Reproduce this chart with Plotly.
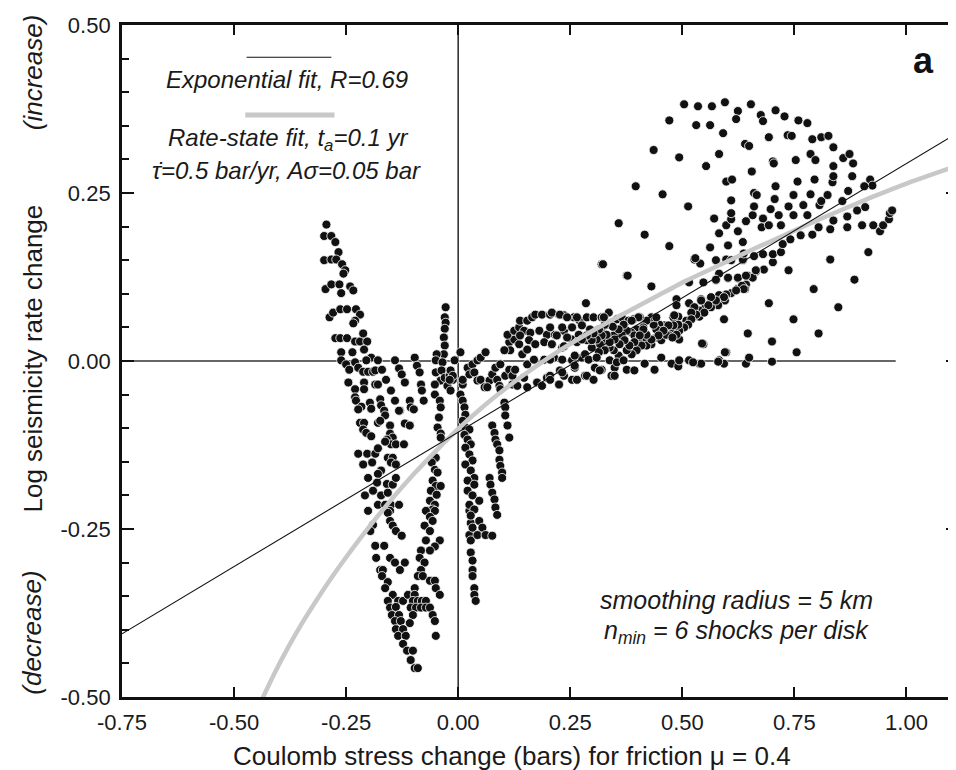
import plotly.graph_objects as go

# ---- scatter data: (Coulomb stress change, log seismicity rate change) ----
left_pts = [
    (-0.294, 0.203), (-0.299, 0.186), (-0.283, 0.186), (-0.274, 0.177), (-0.267, 0.162),
    (-0.299, 0.150), (-0.283, 0.151), (-0.272, 0.151), (-0.259, 0.144), (-0.252, 0.135),
    (-0.256, 0.130), (-0.296, 0.107), (-0.283, 0.114), (-0.265, 0.114), (-0.261, 0.101),
    (-0.241, 0.111), (-0.234, 0.105), (-0.287, 0.065), (-0.279, 0.072), (-0.263, 0.077),
    (-0.248, 0.077), (-0.228, 0.077), (-0.219, 0.069), (-0.230, 0.060), (-0.234, 0.056),
    (-0.274, 0.034), (-0.263, 0.034), (-0.248, 0.034), (-0.230, 0.029), (-0.219, 0.029),
    (-0.203, 0.029), (-0.212, 0.041), (-0.261, 0.013), (-0.236, 0.013), (-0.210, 0.017),
    (-0.097, 0.005), (-0.194, 0.005),
    (-0.261, 0.001), (-0.250, -0.005), (-0.243, -0.013), (-0.230, -0.002), (-0.223, -0.010),
    (-0.212, -0.016), (-0.201, -0.016), (-0.190, -0.016), (-0.205, 0.001), (-0.179, 0.001),
    (-0.185, -0.014), (-0.170, -0.013), (-0.141, 0.001), (-0.132, -0.011), (-0.126, -0.020),
    (-0.119, -0.032), (-0.092, -0.007), (-0.086, -0.017), (-0.083, -0.035), (-0.081, -0.044),
    (-0.077, -0.059),
    (-0.245, -0.032), (-0.210, -0.032), (-0.185, -0.035), (-0.179, -0.035), (-0.230, -0.042),
    (-0.210, -0.042), (-0.161, -0.028), (-0.150, -0.044), (-0.141, -0.059), (-0.130, -0.074),
    (-0.108, -0.059), (-0.106, -0.069), (-0.099, -0.072), (-0.119, -0.093), (-0.108, -0.096),
    (-0.230, -0.054), (-0.228, -0.059), (-0.216, -0.068), (-0.197, -0.062), (-0.194, -0.071),
    (-0.223, -0.072), (-0.174, -0.057), (-0.172, -0.066), (-0.165, -0.074), (-0.163, -0.081),
    (-0.132, -0.074), (-0.219, -0.092), (-0.210, -0.092), (-0.212, -0.102), (-0.205, -0.107),
    (-0.194, -0.112), (-0.179, -0.092), (-0.174, -0.089), (-0.152, -0.096), (-0.152, -0.108),
    (-0.146, -0.114), (-0.159, -0.117), (-0.150, -0.124), (-0.139, -0.124), (-0.121, -0.124),
    (-0.163, -0.120), (-0.223, -0.138), (-0.203, -0.138), (-0.185, -0.138), (-0.179, -0.130),
    (-0.212, -0.154), (-0.192, -0.151), (-0.157, -0.144), (-0.146, -0.144), (-0.150, -0.151),
    (-0.139, -0.154), (-0.172, -0.163), (-0.179, -0.168), (-0.201, -0.174), (-0.181, -0.181),
    (-0.159, -0.183), (-0.146, -0.184), (-0.139, -0.174), (-0.208, -0.200), (-0.190, -0.193),
    (-0.172, -0.200), (-0.157, -0.196), (-0.201, -0.223), (-0.179, -0.214), (-0.163, -0.214),
    (-0.150, -0.214), (-0.132, -0.214), (-0.152, -0.223),
    (-0.157, -0.226), (-0.152, -0.238), (-0.146, -0.245), (-0.139, -0.253), (-0.126, -0.260),
    (-0.190, -0.244), (-0.196, -0.253), (-0.185, -0.275), (-0.165, -0.275), (-0.183, -0.293),
    (-0.152, -0.293), (-0.141, -0.300), (-0.119, -0.300), (-0.130, -0.311), (-0.174, -0.311),
    (-0.168, -0.311), (-0.170, -0.320), (-0.157, -0.329), (-0.163, -0.338), (-0.146, -0.348),
    (-0.157, -0.357), (-0.134, -0.357), (-0.123, -0.357), (-0.152, -0.367), (-0.139, -0.366),
    (-0.148, -0.378), (-0.132, -0.378), (-0.141, -0.387), (-0.128, -0.387), (-0.139, -0.399),
    (-0.123, -0.399), (-0.134, -0.409), (-0.117, -0.409), (-0.123, -0.421), (-0.114, -0.431),
    (-0.101, -0.431), (-0.106, -0.445), (-0.097, -0.457), (-0.090, -0.457),
]

center_pts = [
    (-0.028, 0.080), (-0.030, 0.065), (-0.028, 0.057), (-0.030, 0.048), (-0.032, 0.035),
    (-0.030, 0.023), (-0.032, 0.010), (-0.048, 0.010), (0.005, 0.013),
    (-0.050, 0.001), (-0.035, -0.002), (-0.050, -0.017), (-0.037, -0.014), (-0.039, -0.029),
    (-0.052, -0.035), (-0.052, -0.050), (-0.030, -0.025), (-0.019, -0.022), (-0.012, -0.028),
    (-0.024, -0.037), (-0.017, -0.044), (-0.041, -0.059), (-0.039, -0.069), (-0.043, -0.084),
    (-0.046, -0.099), (-0.039, -0.108), (-0.039, -0.114),
    (-0.050, -0.144), (-0.059, -0.151), (-0.052, -0.162), (-0.046, -0.166), (-0.057, -0.178),
    (-0.050, -0.186), (-0.039, -0.186), (-0.061, -0.193), (-0.048, -0.199), (-0.063, -0.208),
    (-0.052, -0.214), (-0.068, -0.223), (-0.057, -0.221),
    (-0.072, -0.223), (-0.052, -0.223), (-0.063, -0.232), (-0.057, -0.238), (-0.075, -0.245),
    (-0.063, -0.253), (-0.072, -0.267), (-0.041, -0.267), (-0.052, -0.276), (-0.083, -0.282),
    (-0.063, -0.282), (-0.086, -0.293), (-0.075, -0.300), (-0.083, -0.311), (-0.090, -0.320),
    (-0.079, -0.320), (-0.063, -0.327), (-0.052, -0.327), (-0.097, -0.338), (-0.050, -0.338),
    (-0.041, -0.348), (-0.112, -0.348), (-0.097, -0.348), (-0.101, -0.357), (-0.090, -0.357),
    (-0.081, -0.357), (-0.072, -0.357), (-0.106, -0.367), (-0.094, -0.367), (-0.083, -0.367),
    (-0.072, -0.367), (-0.063, -0.367), (-0.057, -0.378), (-0.052, -0.387), (-0.101, -0.378),
    (-0.108, -0.390), (-0.050, -0.409),
    (0.025, -0.223), (0.028, -0.241), (0.025, -0.259), (0.028, -0.267), (0.028, -0.285),
    (0.032, -0.297), (0.032, -0.311), (0.032, -0.320), (0.036, -0.338), (0.036, -0.348),
    (0.039, -0.357),
    (-0.008, 0.001), (-0.017, -0.014), (-0.012, -0.022), (-0.019, -0.028),
    (0.010, -0.035), (0.005, -0.050), (0.010, -0.059), (0.014, -0.069), (0.016, -0.080),
    (0.010, -0.089), (0.016, -0.099), (0.025, -0.102), (0.014, -0.110), (0.021, -0.117),
    (0.028, -0.124), (0.016, -0.129), (0.025, -0.139), (0.032, -0.148), (0.016, -0.154),
    (0.028, -0.163), (0.036, -0.174), (0.021, -0.178), (0.036, -0.184), (0.021, -0.193),
    (0.032, -0.200), (0.047, -0.208), (0.025, -0.214), (0.036, -0.221), (0.028, -0.230),
    (0.047, -0.238), (0.032, -0.248), (0.054, -0.248), (0.043, -0.259), (0.061, -0.259),
    (0.076, -0.260),
    (0.070, -0.174), (0.072, -0.184), (0.076, -0.196), (0.081, -0.206), (0.083, -0.218),
    (0.087, -0.229),
    (0.076, -0.096), (0.081, -0.107), (0.083, -0.117), (0.087, -0.124), (0.092, -0.133),
    (0.092, -0.147), (0.094, -0.156), (0.098, -0.166), (0.098, -0.174),
    (0.103, -0.062), (0.105, -0.069), (0.105, -0.081), (0.110, -0.096), (0.114, -0.114),
    (0.021, -0.010), (0.032, -0.005), (0.043, 0.001), (0.050, 0.005), (0.061, 0.013),
    (0.010, -0.028), (0.025, -0.020), (0.036, -0.017), (0.043, -0.029), (0.050, -0.028),
    (0.059, -0.039), (0.070, -0.029), (0.065, -0.039), (0.076, -0.020), (0.083, -0.010),
    (0.094, -0.005), (0.087, -0.028), (0.092, -0.037), (0.094, -0.042), (0.105, -0.022),
    (0.114, -0.013), (0.121, -0.022), (0.127, -0.013), (0.121, -0.035), (0.132, -0.037),
    (0.147, -0.025), (0.154, -0.039), (0.154, -0.005), (0.169, 0.002), (0.176, -0.032),
    (0.187, -0.037), (0.198, -0.025), (0.205, -0.022), (0.227, -0.014), (0.236, -0.022),
    (0.225, -0.035), (0.260, -0.010), (0.265, -0.028), (0.283, -0.022), (0.254, 0.001),
    (0.276, 0.005),
]

hump_pts = [
    (0.114, 0.028), (0.125, 0.032), (0.136, 0.025), (0.116, 0.016), (0.143, 0.010),
    (0.110, 0.039), (0.125, 0.045), (0.136, 0.050), (0.138, 0.060), (0.154, 0.060),
    (0.165, 0.065), (0.172, 0.069), (0.187, 0.069), (0.205, 0.069), (0.225, 0.069),
    (0.236, 0.068), (0.258, 0.065), (0.271, 0.060), (0.147, 0.045), (0.161, 0.042),
    (0.181, 0.045), (0.198, 0.039), (0.216, 0.039), (0.236, 0.045), (0.254, 0.050),
    (0.158, 0.031), (0.172, 0.025), (0.192, 0.028), (0.209, 0.025), (0.232, 0.020),
    (0.254, 0.032), (0.269, 0.039), (0.103, 0.016), (0.138, 0.038), (0.154, 0.017),
    (0.192, 0.002), (0.214, 0.005),
    (0.209, 0.072), (0.227, 0.069), (0.243, 0.065), (0.265, 0.065), (0.287, 0.065),
    (0.302, 0.065), (0.320, 0.065), (0.336, 0.072), (0.205, 0.050), (0.232, 0.050),
    (0.254, 0.050), (0.276, 0.053), (0.294, 0.047), (0.220, 0.038), (0.243, 0.035),
    (0.209, 0.025), (0.236, 0.022), (0.265, 0.028), (0.260, 0.008), (0.283, 0.010),
]

right_pts = [
    (0.320, 0.144), (0.376, 0.127), (0.431, 0.111), (0.285, 0.086), (0.527, 0.151),
    (0.540, 0.145), (0.598, 0.151), (0.635, 0.150), (0.682, 0.136), (0.664, 0.133),
    (0.646, 0.127), (0.657, 0.124), (0.624, 0.123), (0.602, 0.123), (0.582, 0.130),
    (0.575, 0.120), (0.547, 0.117), (0.515, 0.117), (0.642, 0.114), (0.640, 0.107),
    (0.622, 0.107), (0.609, 0.101), (0.598, 0.099), (0.582, 0.098), (0.564, 0.093),
    (0.542, 0.092), (0.515, 0.086), (0.487, 0.092), (0.487, 0.083), (0.595, 0.090),
    (0.580, 0.083), (0.564, 0.080), (0.549, 0.078), (0.538, 0.075), (0.527, 0.072),
    (0.538, 0.066), (0.524, 0.065), (0.509, 0.060), (0.491, 0.066), (0.480, 0.065),
    (0.502, 0.050), (0.491, 0.047), (0.480, 0.045), (0.471, 0.038), (0.460, 0.053),
    (0.449, 0.054), (0.453, 0.044), (0.442, 0.047), (0.436, 0.054), (0.431, 0.065),
    (0.420, 0.060), (0.413, 0.050), (0.398, 0.047), (0.387, 0.042), (0.376, 0.045),
    (0.365, 0.038), (0.347, 0.038), (0.336, 0.031), (0.325, 0.031), (0.316, 0.025),
    (0.393, 0.038), (0.405, 0.035), (0.420, 0.032), (0.431, 0.025), (0.442, 0.035),
    (0.453, 0.031), (0.464, 0.039), (0.493, 0.032), (0.420, 0.023), (0.409, 0.023),
    (0.398, 0.016), (0.387, 0.010), (0.376, 0.016), (0.358, 0.008), (0.347, 0.016),
    (0.338, 0.020), (0.327, 0.016), (0.314, 0.013), (0.298, 0.020), (0.287, 0.031),
    (0.302, 0.032), (0.309, 0.042), (0.320, 0.047), (0.331, 0.054), (0.342, 0.057),
    (0.354, 0.062), (0.365, 0.065), (0.380, 0.060), (0.391, 0.062), (0.405, 0.065),
    (0.205, 0.002), (0.232, 0.002), (0.260, -0.007), (0.291, 0.002), (0.309, 0.005),
    (0.305, -0.010), (0.320, -0.013), (0.338, 0.001), (0.349, -0.010), (0.354, -0.002),
    (0.369, 0.001), (0.376, -0.013), (0.393, -0.014), (0.416, -0.004), (0.438, -0.013),
    (0.453, 0.005), (0.476, -0.004), (0.491, -0.008), (0.493, 0.001), (0.515, 0.001),
    (0.538, -0.004), (0.582, 0.001), (0.593, -0.004), (0.598, 0.013), (0.642, -0.004),
    (0.649, 0.005), (0.547, 0.025), (0.593, 0.062), (0.646, 0.041),
    (0.205, -0.028), (0.225, -0.035), (0.232, -0.017), (0.254, -0.028), (0.265, -0.028),
    (0.287, -0.022), (0.302, -0.028), (0.316, -0.014), (0.342, -0.022), (0.349, -0.022),
    (0.575, 0.121), (0.602, 0.124), (0.624, 0.124), (0.642, 0.127), (0.664, 0.135),
    (0.702, 0.147), (0.702, 0.159), (0.720, 0.162), (0.724, 0.174), (0.660, 0.156),
    (0.635, 0.151), (0.609, 0.150), (0.575, 0.150), (0.562, 0.169), (0.529, 0.153),
    (0.602, 0.172), (0.637, 0.160), (0.680, 0.159), (0.633, 0.112), (0.637, 0.107),
    (0.620, 0.105), (0.593, 0.095), (0.575, 0.090), (0.564, 0.095), (0.558, 0.083),
    (0.549, 0.072), (0.542, 0.090), (0.527, 0.080), (0.531, 0.069), (0.520, 0.072),
    (0.520, 0.062), (0.513, 0.054), (0.504, 0.050), (0.493, 0.045), (0.487, 0.039),
    (0.478, 0.035), (0.491, 0.054), (0.480, 0.053), (0.469, 0.053), (0.458, 0.045),
    (0.447, 0.038), (0.431, 0.032), (0.420, 0.039), (0.413, 0.047), (0.405, 0.038),
    (0.393, 0.028), (0.382, 0.023), (0.371, 0.031), (0.360, 0.025), (0.349, 0.032),
    (0.338, 0.028), (0.331, 0.039), (0.320, 0.038), (0.309, 0.032), (0.298, 0.031),
    (0.402, 0.065), (0.387, 0.060), (0.369, 0.054), (0.358, 0.047), (0.345, 0.051),
    (0.327, 0.054), (0.314, 0.047), (0.302, 0.041), (0.287, 0.038), (0.276, 0.032),
    (0.482, 0.068), (0.442, 0.065), (0.325, 0.065),
]

upper_pts = [
    (0.504, 0.382), (0.535, 0.379), (0.566, 0.379), (0.595, 0.385), (0.653, 0.382),
    (0.624, 0.372), (0.620, 0.360), (0.675, 0.366), (0.680, 0.357), (0.708, 0.373),
    (0.728, 0.364), (0.759, 0.358), (0.779, 0.354), (0.471, 0.358), (0.531, 0.351),
    (0.562, 0.351), (0.591, 0.339), (0.640, 0.323), (0.649, 0.320), (0.693, 0.333),
    (0.735, 0.336), (0.744, 0.335), (0.790, 0.330), (0.810, 0.333), (0.826, 0.335),
    (0.837, 0.318), (0.436, 0.314), (0.493, 0.303), (0.553, 0.290), (0.582, 0.308),
    (0.702, 0.297), (0.704, 0.294), (0.753, 0.299), (0.786, 0.308), (0.797, 0.299),
    (0.837, 0.290), (0.859, 0.302), (0.873, 0.308), (0.881, 0.294), (0.598, 0.267),
    (0.611, 0.270), (0.655, 0.282), (0.757, 0.267), (0.795, 0.270), (0.835, 0.266),
    (0.837, 0.275), (0.879, 0.275), (0.919, 0.270), (0.924, 0.261), (0.906, 0.260),
    (0.396, 0.260), (0.456, 0.248), (0.513, 0.230), (0.358, 0.205), (0.416, 0.188),
    (0.471, 0.171), (0.323, 0.144), (0.378, 0.127), (0.571, 0.212), (0.582, 0.190),
    (0.598, 0.202), (0.609, 0.211), (0.609, 0.220), (0.609, 0.239), (0.624, 0.193),
    (0.635, 0.177), (0.642, 0.208), (0.657, 0.217), (0.660, 0.250), (0.666, 0.247),
    (0.660, 0.230), (0.680, 0.212), (0.677, 0.199), (0.693, 0.202), (0.697, 0.226),
    (0.706, 0.241), (0.708, 0.260), (0.715, 0.217), (0.720, 0.202), (0.737, 0.230),
    (0.741, 0.181), (0.748, 0.217), (0.748, 0.247), (0.764, 0.187), (0.770, 0.232),
    (0.779, 0.217), (0.786, 0.248), (0.790, 0.188), (0.806, 0.232), (0.810, 0.238),
    (0.804, 0.199), (0.824, 0.247), (0.837, 0.209), (0.857, 0.238), (0.830, 0.196),
    (0.868, 0.215), (0.870, 0.253), (0.890, 0.224), (0.868, 0.199), (0.901, 0.202),
    (0.908, 0.229), (0.926, 0.202), (0.941, 0.193), (0.948, 0.202), (0.961, 0.211),
    (0.963, 0.220), (0.968, 0.224), (0.915, 0.162), (0.884, 0.121), (0.848, 0.080),
    (0.830, 0.151), (0.793, 0.107), (0.804, 0.041), (0.737, 0.135), (0.693, 0.086),
    (0.700, 0.029), (0.748, 0.062), (0.755, 0.013), (0.544, 0.026), (0.595, 0.013),
    (0.700, -0.001), (0.580, -0.001), (0.542, -0.004), (0.524, -0.002),
]

# ---- fitted curves ----
exp_fit_x = [-0.75, 1.115]
exp_fit_y = [-0.406, 0.340]

rs_fit_x = [-0.438, -0.41, -0.38, -0.35, -0.32, -0.28, -0.25, -0.20, -0.15, -0.10,
            -0.05, 0.0, 0.05, 0.10, 0.15, 0.213, 0.30, 0.36, 0.45, 0.51, 0.60, 0.66,
            0.75, 0.81, 0.92, 1.00, 1.115]
rs_fit_y = [-0.504, -0.465, -0.427, -0.392, -0.360, -0.320, -0.292, -0.248, -0.207,
            -0.169, -0.134, -0.101, -0.071, -0.044, -0.019, 0.010, 0.045, 0.067,
            0.099, 0.120, 0.148, 0.167, 0.194, 0.212, 0.243, 0.264, 0.291]

x_ticks = [-0.75, -0.50, -0.25, 0.00, 0.25, 0.50, 0.75, 1.00]
x_tick_labels = ["-0.75", "-0.50", "-0.25", "0.00", "0.25", "0.50", "0.75", "1.00"]
y_ticks = [-0.50, -0.25, 0.00, 0.25, 0.50]
y_tick_labels = ["-0.50", "-0.25", "0.00", "0.25", "0.50"]

all_pts = left_pts + center_pts + hump_pts + right_pts + upper_pts
px = [p[0] for p in all_pts]
py = [p[1] for p in all_pts]

FONT = "Liberation Sans, Arial, Helvetica, sans-serif"
INK = "#1a1a1a"

fig = go.Figure()
fig.add_trace(go.Scatter(
    x=px, y=py, mode="markers",
    marker=dict(size=9, color="#111111", line=dict(color="white", width=0.8)),
    showlegend=False, hoverinfo="skip"))
fig.add_trace(go.Scatter(
    x=rs_fit_x, y=rs_fit_y, mode="lines",
    line=dict(color="#c8c8c8", width=4.5, shape="spline", smoothing=0.6),
    showlegend=False, hoverinfo="skip"))
fig.add_trace(go.Scatter(
    x=exp_fit_x, y=exp_fit_y, mode="lines",
    line=dict(color="#111111", width=1.1),
    showlegend=False, hoverinfo="skip"))

shapes = [
    dict(type="line", xref="x", yref="y", x0=0, x1=0, y0=-0.5, y1=0.5,
         line=dict(color="#333333", width=1.6), layer="below"),
    dict(type="line", xref="x", yref="y", x0=-0.75, x1=0.976, y0=0, y1=0,
         line=dict(color="#333333", width=1.6), layer="below"),
    dict(type="line", xref="x", yref="y", x0=-0.472, x1=-0.283, y0=0.452, y1=0.452,
         line=dict(color="#111111", width=1.1)),
    dict(type="line", xref="x", yref="y", x0=-0.475, x1=-0.276, y0=0.366, y1=0.366,
         line=dict(color="#c8c8c8", width=5)),
]

leg = dict(family=FONT, size=24, color=INK)
note = dict(family=FONT, size=25, color=INK)
title = dict(family=FONT, size=26, color=INK)
annotations = [
    dict(x=-0.382, y=0.419, xref="x", yref="y", text="<i>Exponential fit, R=0.69</i>",
         showarrow=False, font=leg),
    dict(x=-0.380, y=0.330, xref="x", yref="y",
         text="<i>Rate-state fit, t<sub>a</sub>=0.1 yr</i>", showarrow=False, font=leg),
    dict(x=-0.382, y=0.283, xref="x", yref="y",
         text="<i>\u03c4\u0307=0.5 bar/yr, A\u03c3=0.05 bar</i>", showarrow=False, font=leg),
    dict(x=1.037, y=0.447, xref="x", yref="y", text="<b>a</b>", showarrow=False,
         font=dict(family=FONT, size=36, color="#111111")),
    dict(x=0.620, y=-0.356, xref="x", yref="y", text="<i>smoothing radius = 5 km</i>",
         showarrow=False, font=note),
    dict(x=0.620, y=-0.403, xref="x", yref="y",
         text="<i>n<sub>min</sub> = 6 shocks per disk</i>", showarrow=False, font=note),
    dict(x=-0.107, y=0.503, xref="paper", yref="paper", text="Log seismicity rate change",
         textangle=-90, showarrow=False, xanchor="center", yanchor="middle", font=title),
    dict(x=-0.107, y=0.929, xref="paper", yref="paper", text="<i>(increase)</i>",
         textangle=-90, showarrow=False, xanchor="center", yanchor="middle", font=title),
    dict(x=-0.107, y=0.095, xref="paper", yref="paper", text="<i>(decrease)</i>",
         textangle=-90, showarrow=False, xanchor="center", yanchor="middle", font=title),
    dict(x=0.466, y=-0.088, xref="paper", yref="paper",
         text="Coulomb stress change (bars) for friction \u03bc = 0.4",
         showarrow=False, xanchor="center", yanchor="middle", font=title),
]

fig.update_layout(
    width=956, height=770,
    margin=dict(l=114, r=3, t=17, b=81),
    paper_bgcolor="white", plot_bgcolor="white",
    shapes=shapes, annotations=annotations,
    showlegend=False,
    font=dict(family=FONT, size=22, color=INK),
)
fig.update_xaxes(
    range=[-0.75, 1.115], tickvals=x_ticks, ticktext=x_tick_labels,
    ticks="inside", ticklen=10, tickwidth=2.4, tickcolor="#111111",
    showline=True, linewidth=2.8, linecolor="#111111", mirror="allticks",
    showgrid=False, zeroline=False,
    tickfont=dict(family=FONT, size=22, color=INK),
    ticklabelstandoff=4,
)
fig.update_yaxes(
    range=[-0.5, 0.5], tickvals=y_ticks, ticktext=y_tick_labels,
    ticks="inside", ticklen=12, tickwidth=2.4, tickcolor="#111111",
    showline=True, linewidth=2.8, linecolor="#111111", mirror="allticks",
    showgrid=False, zeroline=False,
    minor=dict(dtick=0.05, ticks="inside", ticklen=7, tickwidth=1.8, tickcolor="#111111"),
    tickfont=dict(family=FONT, size=22, color=INK),
    ticklabelstandoff=4,
)

fig.write_html("out.html")
